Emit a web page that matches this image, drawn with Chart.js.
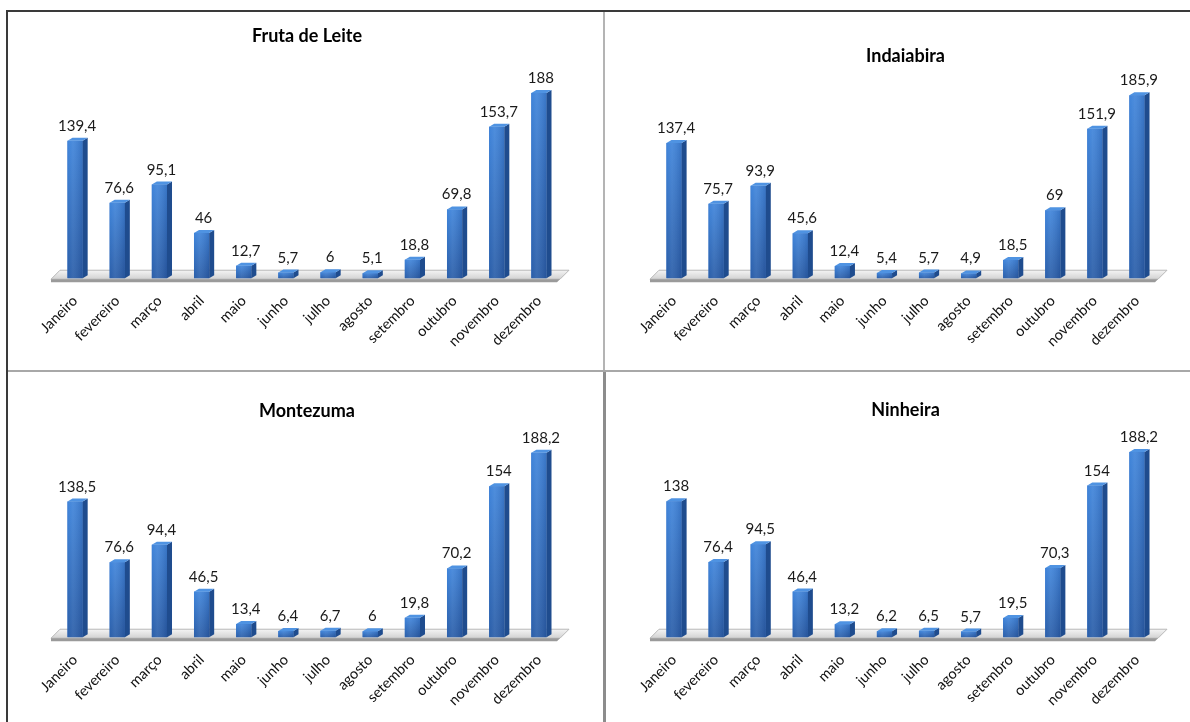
<!DOCTYPE html>
<html>
<head>
<meta charset="utf-8">
<script src="https://cdn.jsdelivr.net/npm/chart.js@4.4.1/dist/chart.umd.min.js"></script>
<style>
html, body { margin: 0; padding: 0; background: #fff; width: 1190px; height: 722px; overflow: hidden; }
canvas, .line { position: absolute; }
</style>
</head>
<body>
<div class="line" style="left:6px;top:10px;width:2px;height:712px;background:#3a3a3a"></div>
<div class="line" style="left:6px;top:10px;width:1184px;height:2px;background:#3a3a3a"></div>
<div class="line" style="left:603px;top:12px;width:2px;height:358px;background:#b4b4b4"></div>
<div class="line" style="left:8px;top:370px;width:1182px;height:2px;background:#a8a8a8"></div>
<div class="line" style="left:603px;top:372px;width:3px;height:350px;background:#8c8c8c"></div>

<canvas id="c1" width="595" height="358" style="left:8px;top:12px"></canvas>
<canvas id="c2" width="585" height="358" style="left:605px;top:12px"></canvas>
<canvas id="c3" width="595" height="350" style="left:8px;top:372px"></canvas>
<canvas id="c4" width="584" height="350" style="left:606px;top:372px"></canvas>

<script>
const months = ['Janeiro', 'fevereiro', 'março', 'abril', 'maio', 'junho', 'julho', 'agosto', 'setembro', 'outubro', 'novembro', 'dezembro'];

const frutaDeLeite = [139.4, 76.6, 95.1, 46, 12.7, 5.7, 6, 5.1, 18.8, 69.8, 153.7, 188];
const indaiabira = [137.4, 75.7, 93.9, 45.6, 12.4, 5.4, 5.7, 4.9, 18.5, 69, 151.9, 185.9];
const montezuma = [138.5, 76.6, 94.4, 46.5, 13.4, 6.4, 6.7, 6, 19.8, 70.2, 154, 188.2];
const ninheira = [138, 76.4, 94.5, 46.4, 13.2, 6.2, 6.5, 5.7, 19.5, 70.3, 154, 188.2];

const FONT = 'Lato, "Open Sans", sans-serif';

function fmt(v) {
   return String(v).replace('.', ',');
}

// fake 3d: floor slab, side + top faces, value labels
const bar3d = {
   id: 'bar3d',
   beforeDatasetsDraw(chart) {
      const { ctx, chartArea } = chart;
      const base = chart.scales.y.getPixelForValue(0);
      const l = chartArea.left - 3, r = chartArea.right - 2;
      ctx.save();
      const g = ctx.createLinearGradient(0, base - 8, 0, base + 1);
      g.addColorStop(0, '#f4f4f4');
      g.addColorStop(1, '#d2d2d2');
      ctx.fillStyle = g;
      ctx.beginPath();
      ctx.moveTo(l, base + 1);
      ctx.lineTo(l + 9, base - 8);
      ctx.lineTo(r + 11, base - 8);
      ctx.lineTo(r + 2, base + 1);
      ctx.closePath();
      ctx.fill();
      ctx.strokeStyle = '#b8b8b8';
      ctx.lineWidth = 1;
      ctx.stroke();
      ctx.fillStyle = '#9a9a9a';
      ctx.beginPath();
      ctx.moveTo(l, base + 1);
      ctx.lineTo(r + 2, base + 1);
      ctx.lineTo(r - 1, base + 4);
      ctx.lineTo(l, base + 4);
      ctx.closePath();
      ctx.fill();
      ctx.restore();
   },
   afterDatasetsDraw(chart) {
      const { ctx } = chart;
      const meta = chart.getDatasetMeta(0);
      const values = chart.data.datasets[0].data;
      ctx.save();
      meta.data.forEach((bar, i) => {
         const { x, y, base, width } = bar.getProps(['x', 'y', 'base', 'width'], true);
         const x0 = x - width / 2, x1 = x + width / 2;
         const d = 5, dy = 3;
         // front shading
         const fg = ctx.createLinearGradient(0, y, 0, base);
         fg.addColorStop(0, '#3f84da');
         fg.addColorStop(1, '#2a5ea9');
         ctx.fillStyle = fg;
         ctx.fillRect(x0, y, width, base - y);
         const hg = ctx.createLinearGradient(x0, 0, x1, 0);
         hg.addColorStop(0, 'rgba(255,255,255,0)');
         hg.addColorStop(0.35, 'rgba(255,255,255,0.08)');
         hg.addColorStop(1, 'rgba(0,0,40,0.12)');
         ctx.fillStyle = hg;
         ctx.fillRect(x0, y, width, base - y);
         // side face
         ctx.fillStyle = '#1f4c8e';
         ctx.beginPath();
         ctx.moveTo(x1, y);
         ctx.lineTo(x1 + d, y - dy);
         ctx.lineTo(x1 + d, base - dy);
         ctx.lineTo(x1, base);
         ctx.closePath();
         ctx.fill();
         // top face
         ctx.fillStyle = '#4f93e2';
         ctx.beginPath();
         ctx.moveTo(x0, y);
         ctx.lineTo(x0 + d, y - dy);
         ctx.lineTo(x1 + d, y - dy);
         ctx.lineTo(x1, y);
         ctx.closePath();
         ctx.fill();
         // value label
         ctx.fillStyle = '#1a1a1a';
         ctx.font = '15px ' + FONT;
         ctx.textAlign = 'center';
         ctx.textBaseline = 'alphabetic';
         ctx.fillText(fmt(values[i]), x + 2, y - 10);
      });
      ctx.restore();
   }
};

function makeChart(id, title, values, yMax, titleTop, pad) {
   return new Chart(document.getElementById(id), {
      type: 'bar',
      data: {
         labels: months,
         datasets: [{
            data: values,
            backgroundColor: '#3470c6',
            borderWidth: 0,
            barPercentage: 0.36,
            categoryPercentage: 1
         }]
      },
      options: {
         responsive: false,
         animation: false,
         layout: {
            padding: pad
         },
         scales: {
            x: {
               grid: { display: false },
               border: { display: false },
               ticks: {
                  color: '#111',
                  font: { family: FONT, size: 14.5 },
                  maxRotation: 45,
                  minRotation: 45,
                  padding: 6,
                  autoSkip: false
               }
            },
            y: {
               display: false,
               min: 0,
               max: yMax
            }
         },
         plugins: {
            legend: { display: false },
            tooltip: { enabled: false },
            title: {
               display: true,
               text: title,
               color: '#000',
               font: { family: FONT, size: 18, weight: 'bold' },
               padding: { top: titleTop, bottom: 2 }
            }
         }
      },
      plugins: [bar3d]
   });
}

makeChart('c1', 'Fruta de Leite', frutaDeLeite, 233, 13, { left: 46, right: 43, bottom: 14 });
makeChart('c2', 'Indaiabira', indaiabira, 213, 33, { left: 48, right: 32, bottom: 14 });
makeChart('c3', 'Montezuma', montezuma, 218, 28, { left: 46, right: 43, bottom: 7 });
makeChart('c4', 'Ninheira', ninheira, 218, 27, { left: 47, right: 32, bottom: 7 });
</script>
</body>
</html>
